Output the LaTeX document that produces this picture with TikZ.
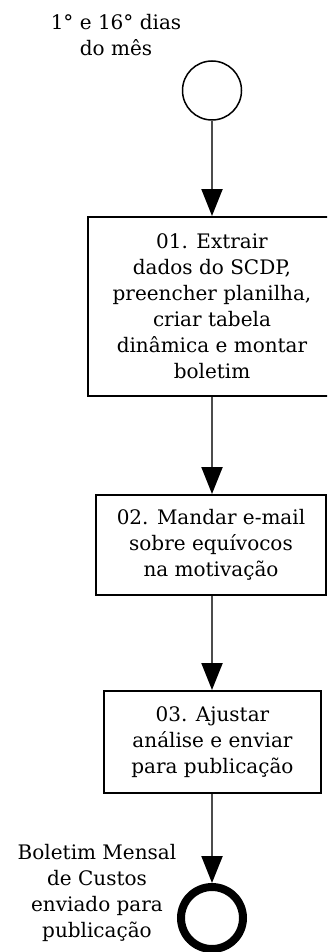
\documentclass[tikz,border=0pt]{standalone}
\usepackage{fontspec}
\setmainfont{DejaVu Serif}
\usetikzlibrary{arrows.meta}
\tikzset{
  txt/.style={font=\fontsize{20}{26}\selectfont, align=center, inner sep=0pt},
  taskbox/.style={txt, draw=black, line width=2pt, fill=white, rectangle},
  startev/.style={circle, draw=black, line width=1.5pt, minimum size=59pt, inner sep=0pt},
  endev/.style={circle, draw=black, line width=8pt, minimum size=62pt, inner sep=0pt},
  flow/.style={draw=black!70, line width=2.2pt, -{Triangle[length=27pt,width=21pt,color=black,fill=black]}, shorten >=0pt}
}
\begin{document}
\begin{tikzpicture}[x=1pt,y=-1pt]
\useasboundingbox (0,0) rectangle (327,952);
\clip (0,0) rectangle (327,952);
\node[startev] (start) at (212,90.5) {};
\node[txt] (startlbl) at (116,35) {1° e 16° dias\\do mês};
\node[taskbox, minimum width=248pt, minimum height=179pt] (b1) at (212,306.5)
  {01. Extrair\\dados do SCDP,\\preencher planilha,\\criar tabela\\dinâmica e montar\\boletim};
\node[taskbox, minimum width=230pt, minimum height=100pt] (b2) at (211,545)
  {02. Mandar e-mail\\sobre equívocos\\na motivação};
\node[taskbox, minimum width=217pt, minimum height=102pt] (b3) at (212.5,742)
  {03. Ajustar\\análise e enviar\\para publicação};
\node[endev] (end) at (212,918) {};
\node[txt] (endlbl) at (97,893) {Boletim Mensal\\de Custos\\enviado para\\publicação};
\draw[flow] (start.south) -- (start.south |- b1.north);
\draw[flow] (b1.south -| start.south) -- (start.south |- b2.north);
\draw[flow] (b2.south -| start.south) -- (start.south |- b3.north);
\draw[flow] (b3.south -| start.south) -- (end.north);
\end{tikzpicture}
\end{document}
